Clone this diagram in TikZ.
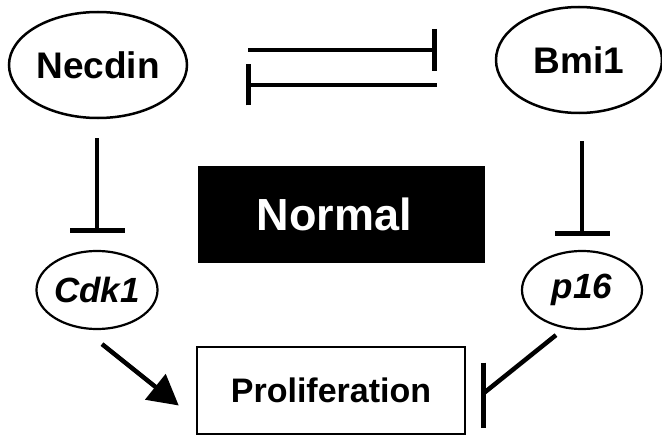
\documentclass[tikz,border=0pt]{standalone}
\usepackage{fontspec}
\setmainfont{Liberation Sans}
\usetikzlibrary{shapes.geometric,arrows.meta}
\tikzset{
  oval/.style={ellipse, draw, line width=2.5pt, inner sep=0pt, font=\bfseries\fontsize{37}{40}\selectfont},
  smalloval/.style={ellipse, draw, line width=2.2pt, inner sep=0pt, minimum width=120pt, minimum height=78pt, font=\bfseries\itshape\fontsize{35}{38}\selectfont},
  inh/.style={line width=4.5pt},
  act/.style={line width=4.5pt, -{Triangle[length=30pt,width=32pt]}},
}
\begin{document}
\begin{tikzpicture}[x=1pt,y=-1pt]
\useasboundingbox (0,0) rectangle (662,436);
\node[oval, minimum width=178pt, minimum height=106pt] (necdin) at (98,65) {Necdin};
\node[oval, minimum width=166pt, minimum height=106pt] (bmi) at (579,60) {Bmi1};
\node[smalloval] (cdk) at (97,290) {Cdk1};
\node[smalloval] (p16) at (582,290) {p16};
\node[fill=black, minimum width=287pt, minimum height=97pt, inner sep=0pt, text=white, font=\bfseries\fontsize{45}{48}\selectfont] (normal) at (341.5,214.5) {\hspace*{-14pt}Normal};
\node[draw, line width=2.5pt, minimum width=268pt, minimum height=87pt, inner sep=0pt, font=\bfseries\fontsize{34}{37}\selectfont] (prol) at (331,390.5) {Proliferation};
% mutual inhibition
\coordinate (u1) at ([yshift=15pt]necdin.east);
\coordinate (l1) at ([yshift=-20pt]necdin.east);
\draw[inh, -{Bar[width=42pt]}, shorten <=60pt, shorten >=58pt] (u1) -- (u1 -| bmi.west);
\draw[inh, {Bar[width=41pt]}-, shorten <=58pt, shorten >=58pt] (l1) -- (l1 -| bmi.west);
% vertical inhibitions
\draw[inh, -{Bar[width=55pt]}, shorten <=19pt, shorten >=17pt] (necdin.south -| cdk.north) -- (cdk.north);
\draw[inh, -{Bar[width=55pt]}, shorten <=27pt, shorten >=14pt] (bmi.south -| p16.north) -- (p16.north);
% Cdk1 -> Proliferation
\draw[act] ([xshift=5pt,yshift=-14pt]cdk.south) -- ([xshift=-17pt,yshift=-15pt]prol.west);
% p16 -| Proliferation
\coordinate (pe) at ([xshift=17pt,yshift=-3pt]prol.east);
\draw[inh] ([xshift=-26pt,yshift=-5pt]p16.south) -- (pe);
\draw[inh] ([yshift=31pt]pe) -- ([yshift=-34pt]pe);
\end{tikzpicture}
\end{document}
